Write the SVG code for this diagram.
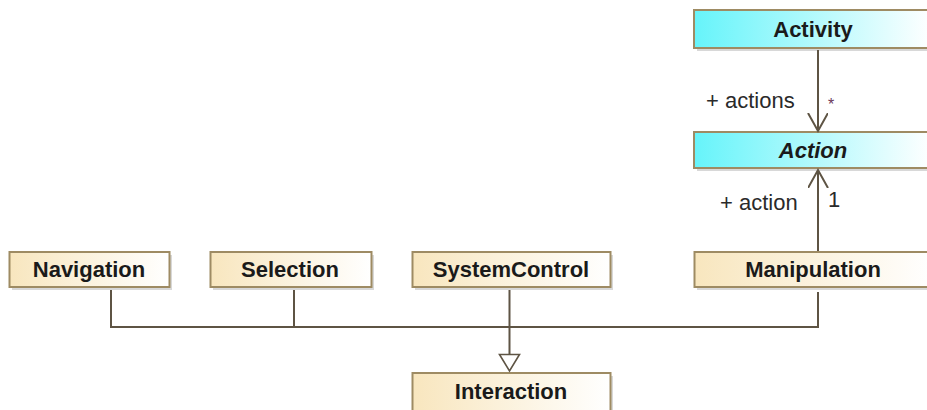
<svg xmlns="http://www.w3.org/2000/svg" width="927" height="410" viewBox="0 0 927 410">
<style>
.box{stroke:#9E8B63;stroke-width:2}
.shadow{fill:#D8D8D8}
.title{font-family:"Liberation Sans",Arial,sans-serif;font-weight:bold;font-size:22px;fill:#1A1A1A;text-anchor:middle}
.lbl{font-family:"Liberation Sans",Arial,sans-serif;font-size:22px;fill:#2A2A2A}
.conn{fill:none;stroke:#5E5444;stroke-width:2}
</style>
<defs>
<linearGradient id="gCyan" x1="0" y1="0" x2="1" y2="0">
<stop offset="0" stop-color="#66F4FA"/>
<stop offset="1" stop-color="#FFFFFF"/>
</linearGradient>
<linearGradient id="gBeige" x1="0" y1="0" x2="1" y2="0">
<stop offset="0" stop-color="#F8E6BE"/>
<stop offset="1" stop-color="#FFFFFF"/>
</linearGradient>
<marker id="openArrow" markerWidth="22" markerHeight="22" refX="18" refY="10" orient="auto" markerUnits="userSpaceOnUse">
<path d="M0,0 L18,10 L0,20" fill="none" stroke="#5E5444" stroke-width="2"/>
</marker>
</defs>

<g id="Activity">
<rect class="shadow" x="697" y="13" width="238" height="38"/>
<rect class="box" x="694" y="10" width="238" height="38" fill="url(#gCyan)"/>
<text class="title" x="813" y="37">Activity</text>
</g>

<g id="Action">
<rect class="shadow" x="697" y="135" width="238" height="36"/>
<rect class="box" x="694" y="132" width="238" height="36" fill="url(#gCyan)"/>
<text class="title" x="813" y="158" font-style="italic">Action</text>
</g>

<g id="Navigation">
<rect class="shadow" x="12" y="255" width="160" height="35"/>
<rect class="box" x="9.5" y="252" width="160" height="35" fill="url(#gBeige)"/>
<text class="title" x="89" y="277">Navigation</text>
</g>

<g id="Selection">
<rect class="shadow" x="213" y="255" width="161" height="35"/>
<rect class="box" x="210.5" y="252" width="161" height="35" fill="url(#gBeige)"/>
<text class="title" x="290" y="277">Selection</text>
</g>

<g id="SystemControl">
<rect class="shadow" x="415" y="255" width="198" height="35"/>
<rect class="box" x="412.5" y="252" width="198" height="35" fill="url(#gBeige)"/>
<text class="title" x="511" y="277">SystemControl</text>
</g>

<g id="Manipulation">
<rect class="shadow" x="697" y="255" width="238" height="35"/>
<rect class="box" x="694.5" y="252" width="238" height="35" fill="url(#gBeige)"/>
<text class="title" x="813" y="277">Manipulation</text>
</g>

<g id="Interaction">
<rect class="shadow" x="415" y="376" width="198" height="40"/>
<rect class="box" x="412.5" y="373" width="198" height="40" fill="url(#gBeige)"/>
<text class="title" x="511" y="399">Interaction</text>
</g>

<g id="connectors">
<path class="conn" d="M818,50 L818,131" marker-end="url(#openArrow)"/>
<path class="conn" d="M818,251 L818,170" marker-end="url(#openArrow)"/>
<path class="conn" d="M111,290 L111,327 L818,327 L818,292"/>
<path class="conn" d="M294,290 L294,327"/>
<path class="conn" d="M509.5,290 L509.5,354"/>
<path d="M499.5,354.5 L519.5,354.5 L509.5,371 Z" fill="#FFFFFF" stroke="#5E5444" stroke-width="1.6"/>
<text class="lbl" x="706" y="108">+ actions</text>
<text x="828" y="110" font-family="Liberation Sans,Arial,sans-serif" font-size="16" fill="#6A3A5A">*</text>
<text class="lbl" x="720" y="210">+ action</text>
<text class="lbl" x="828" y="207">1</text>
</g>
</svg>
